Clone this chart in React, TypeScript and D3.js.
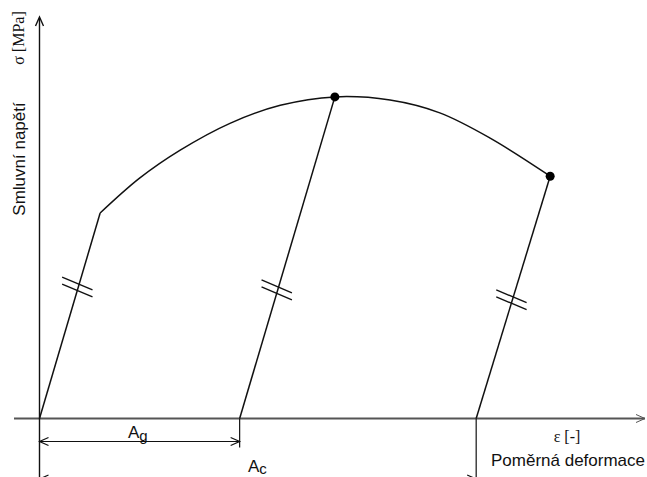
import React from "react";
import * as d3 from "d3";

// Normalised strain (x) and stress (y) of the schematic tensile diagram
const curveStrain = [0.1, 0.165, 0.232, 0.314, 0.397, 0.487, 0.578, 0.66, 0.743, 0.842];
const curveStress = [0.513, 0.6, 0.67, 0.737, 0.782, 0.803, 0.795, 0.763, 0.7, 0.605];

// Elastic loading line and the two unloading lines: [start strain, end strain, end stress]
const loadLines = [
  { x0: 0, x1: 0.1, y1: 0.513, tick: 0.64 },
  { x0: 0.33, x1: 0.487, y1: 0.803, tick: 0.4 },
  { x0: 0.72, x1: 0.842, y1: 0.605, tick: 0.49 },
];

// Marked points: ultimate strength and fracture
const markStrain = [0.487, 0.842];
const markStress = [0.803, 0.605];

const W = 647;
const H = 477;

export default function App() {
  const x = d3.scaleLinear().domain([0, 1]).range([39.5, 646]);
  const y = d3.scaleLinear().domain([0, 1]).range([418.5, 18]);

  const curvePts: [number, number][] = curveStrain.map((s, i) => [x(s), y(curveStress[i])]);
  const curvePath = d3.line().curve(d3.curveCatmullRom.alpha(0.5))(curvePts) || "";

  const ink = "#111";
  const axisInk = "#555";

  const arrowHead = (px: number, py: number, dir: number) => {
    // open "<" style arrow head, dir = +1 points right, -1 points left
    const l = 9;
    const h = 4;
    return `M${px - dir * l},${py - h}L${px},${py}L${px - dir * l},${py + h}`;
  };

  const slashes = (l: typeof loadLines[number]) => {
    const ax = x(l.x0), ay = y(0), bx = x(l.x1), by = y(l.y1);
    const cx = ax + (bx - ax) * l.tick;
    const cy = ay + (by - ay) * l.tick;
    const ang = (23 * Math.PI) / 180;
    const half = 16.5;
    const dx = Math.cos(ang) * half;
    const dy = Math.sin(ang) * half;
    return [-3.5, 3.5].map((o, k) => (
      <line
        key={k}
        x1={cx - dx - 1}
        y1={cy - dy + o}
        x2={cx + dx - 1}
        y2={cy + dy + o}
        stroke={ink}
        strokeWidth={1.4}
      />
    ));
  };

  const yAg = 441.5;
  const yAc = 479;
  const xAg = x(loadLines[1].x0);
  const xAc = x(loadLines[2].x0);

  return (
    <svg width={W} height={H} style={{ position: "absolute", left: 0, top: 0, background: "#fff" }}>
      {/* axes */}
      <line x1={14} y1={y(0)} x2={645} y2={y(0)} stroke={axisInk} strokeWidth={2} />
      <path d={arrowHead(645, y(0), 1)} fill="none" stroke={axisInk} strokeWidth={1} />
      <line x1={x(0)} y1={y(0) + 60} x2={x(0)} y2={18} stroke={ink} strokeWidth={1.4} />
      <path d={`M${x(0) - 4},26L${x(0)},17L${x(0) + 4},26`} fill="none" stroke={ink} strokeWidth={1.4} />

      {/* stress-strain curve */}
      <path d={curvePath} fill="none" stroke={ink} strokeWidth={1.5} />
      {loadLines.map((l, i) => (
        <g key={i}>
          <line x1={x(l.x0)} y1={y(0)} x2={x(l.x1)} y2={y(l.y1)} stroke={ink} strokeWidth={1.5} />
          {slashes(l)}
        </g>
      ))}
      {markStrain.map((s, i) => (
        <circle key={i} cx={x(s)} cy={y(markStress[i])} r={4.5} fill="#000" />
      ))}

      {/* dimension lines */}
      <line x1={xAg} y1={y(0)} x2={xAg} y2={yAg + 6} stroke={ink} strokeWidth={1.2} />
      <line x1={xAc} y1={y(0)} x2={xAc} y2={H} stroke={ink} strokeWidth={1.2} />
      <line x1={x(0)} y1={yAg} x2={xAg} y2={yAg} stroke={ink} strokeWidth={1.2} />
      <path d={arrowHead(x(0), yAg, -1)} fill="none" stroke={ink} strokeWidth={1.2} />
      <path d={arrowHead(xAg, yAg, 1)} fill="none" stroke={ink} strokeWidth={1.2} />
      <line x1={x(0)} y1={yAc} x2={xAc} y2={yAc} stroke={ink} strokeWidth={1.2} />
      <path d={arrowHead(x(0), yAc, -1)} fill="none" stroke={ink} strokeWidth={1.2} />
      <path d={arrowHead(xAc, yAc, 1)} fill="none" stroke={ink} strokeWidth={1.2} />

      {/* labels */}
      <g fontFamily="Liberation Sans, Arial, sans-serif" fontSize={17} fill="#111">
        <text x={128} y={438}>
          A<tspan dy={3} fontSize={15}>g</tspan>
        </text>
        <text x={248} y={472}>
          A<tspan dy={2} fontSize={15}>c</tspan>
        </text>
        <text x={645} y={466} textAnchor="end">Poměrná deformace</text>
        <text transform="translate(25,159) rotate(-90)" textAnchor="middle">Smluvní napětí</text>
      </g>
      <g fontFamily="Liberation Serif, Times New Roman, serif" fontSize={16} fill="#111">
        <text x={567} y={442} textAnchor="middle">ε [-]</text>
        <text transform="translate(24,38) rotate(-90)" textAnchor="middle">σ [MPa]</text>
      </g>
    </svg>
  );
}
